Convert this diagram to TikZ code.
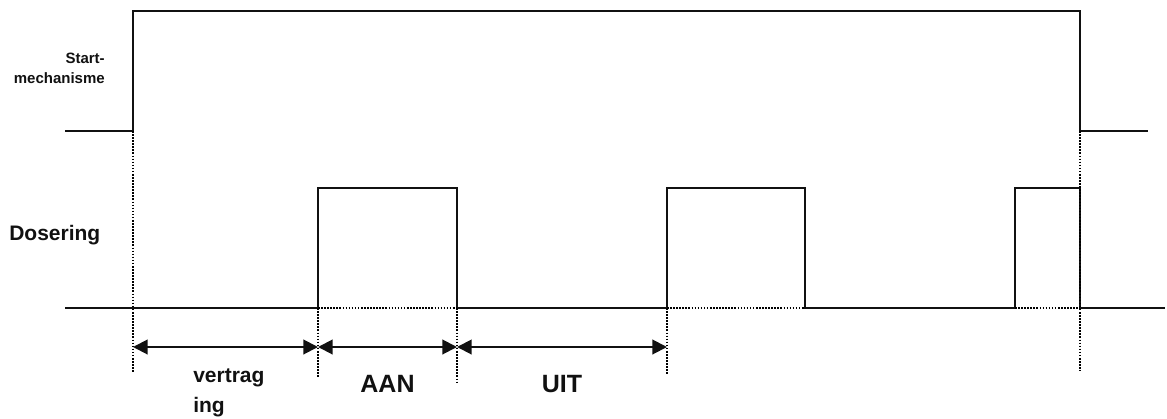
\documentclass[tikz,border=0pt]{standalone}
\usepackage{fontspec}
\setmainfont{Liberation Sans}
\usepackage{tikz}
\usetikzlibrary{arrows.meta,positioning,calc}
\definecolor{cInk}{HTML}{111111}
\tikzset{
  sig/.style={line width=1.5pt,color=cInk,line join=miter},
  guide/.style={line width=1.4pt,color=black,dash pattern=on 1.2pt off 1.1pt},
  span/.style={{Triangle[length=11pt,width=11pt]}-{Triangle[length=11pt,width=11pt]},line width=1.5pt,color=cInk},
  lbl/.style={font=\bfseries,text=cInk,inner sep=0pt},
}

\begin{document}
\begin{tikzpicture}[x=0.75pt,y=-0.75pt,
      small/.style={lbl,font=\fontsize{11.25}{15}\selectfont\bfseries,align=right},
      mid/.style={lbl,font=\fontsize{15.75}{16.5}\selectfont\bfseries,align=left},
      big/.style={lbl,font=\fontsize{18.75}{22}\selectfont\bfseries}]
    \useasboundingbox (0,0) rectangle (1167,418);
    % time marks on the arrow row
    \foreach \n/\x in {0/133,1/318,2/457,3/667,4/1080}{
      \coordinate (m\n) at (\x,347);}
    % signal names (base = last line)
    \node[small,anchor=base east] (startlbl) at (105,83) {Start-\\mechanisme};
    \node[mid,anchor=base west] (doslbl) at (9,240) {Dosering};
    % start signal
    \draw[sig] (65,131) -- (133,131) -- (133,11) -- (1080,11) -- (1080,131) -- (1148,131);
    % dosing signal
    \draw[sig] (65,308) -- (318,308) -- (318,188) -- (457,188) -- (457,308) -- (667,308)
      -- (667,188) -- (805,188) -- (805,308) -- (1015,308) -- (1015,188) -- (1080,188)
      -- (1080,308) -- (1165,308);
    % dotted guides
    \foreach \a/\b in {318/457,667/805,1015/1080}{
      \draw[guide] (\a,308) -- (\b,308);}
    \draw[guide] (133,131) -- (133,372);
    \draw[guide] (318,308) -- (318,378);
    \draw[guide] (457,308) -- (457,382);
    \draw[guide] (667,308) -- (667,375);
    \draw[guide] (1080,131) -- (1080,371);
    % spans
    \draw[span] (m0) -- (m1);
    \draw[span] (m1) -- (m2);
    \draw[span] (m2) -- (m3);
    \node[mid,anchor=base west,font=\fontsize{15.75}{22}\selectfont\bfseries] (vertrag) at (193,412) {vertrag\\ing};
    \node[big,anchor=base] (aan) at ($(m1)!0.5!(m2)+(0,45)$) {AAN};
    \node[big,anchor=base] (uit) at ($(m2)!0.5!(m3)+(0,45)$) {UIT};
  \end{tikzpicture}
\end{document}
